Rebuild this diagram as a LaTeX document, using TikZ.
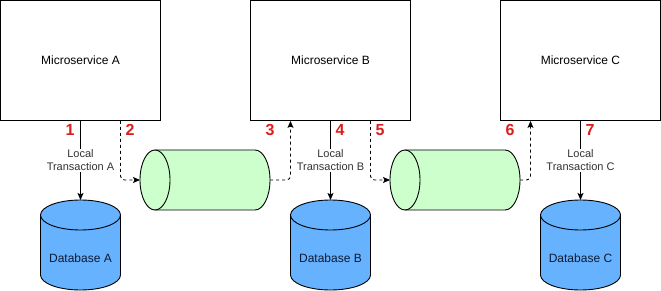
\documentclass[tikz,border=0pt]{standalone}
\usepackage{fontspec}
\setmainfont{Liberation Sans}
\usetikzlibrary{arrows.meta}
\definecolor{dbblue}{HTML}{66B2FF}
\definecolor{qgreen}{HTML}{CCFFCC}
\definecolor{numred}{HTML}{DD1C1C}
\definecolor{lblgray}{HTML}{333333}
\definecolor{dbtextc}{HTML}{0D1A33}
\newcommand\dbdraw[3]{% #1 center x, #2 name, #3 text
  \draw[dbfill] ({#1-40},215) -- ({#1-40},275) arc[start angle=180,end angle=360,x radius=40pt,y radius=15pt] -- ({#1+40},215);
  \draw[dbfill] (#1,215) ellipse[x radius=40pt,y radius=15pt];
  \coordinate (#2top) at (#1,200);
  \node[dbtext] (#2) at (#1,258) {#3};
}
\newcommand\queuedraw[2]{% #1 left x, #2 name
  \draw[qfill] ({#1+15},150) -- ({#1+115},150) arc[start angle=90,end angle=-90,x radius=15pt,y radius=30pt] -- ({#1+15},210);
  \draw[qfill] ({#1+15},180) ellipse[x radius=15pt,y radius=30pt];
  \coordinate (#2L) at (#1,180);
  \coordinate (#2R) at ({#1+130},180);
}
\begin{document}
\begin{tikzpicture}[x=1pt,y=-1pt,
  svc/.style={draw=black, fill=white, line width=0.9pt, minimum width=160pt, minimum height=120pt, inner sep=0pt, font=\fontsize{12}{14}\selectfont},
  lbl/.style={fill=white, font=\fontsize{11}{13}\selectfont, text=lblgray, align=center, inner sep=1pt},
  num/.style={font=\fontsize{16}{18}\selectfont\bfseries, text=numred, inner sep=0pt},
  solidarrow/.style={draw=black, line width=0.9pt, -{Stealth[length=7pt,width=6pt,inset=1.5pt]}},
  dasharrow/.style={solidarrow, dash pattern=on 3pt off 3pt, rounded corners=4pt},
  dbfill/.style={fill=dbblue, draw=black, line width=0.9pt},
  qfill/.style={fill=qgreen, draw=black, line width=0.9pt},
  dbtext/.style={font=\fontsize{12}{14}\selectfont, text=dbtextc, inner sep=0pt}]
\useasboundingbox (0,0) rectangle (661,291);

\node[svc] (svcA) at (80.5,60.5) {Microservice A};
\node[svc] (svcB) at (330.5,60.5) {Microservice B};
\node[svc] (svcC) at (580.5,60.5) {Microservice C};

\dbdraw{80.5}{dbA}{Database A}
\dbdraw{330.5}{dbB}{Database B}
\dbdraw{580.5}{dbC}{Database C}

\queuedraw{140}{qA}
\queuedraw{390}{qB}

\draw[solidarrow] (svcA.south) -- node[lbl] {Local\\Transaction A} (dbAtop);
\draw[solidarrow] (svcB.south) -- node[lbl] {Local\\Transaction B} (dbBtop);
\draw[solidarrow] (svcC.south) -- node[lbl] {Local\\Transaction C} (dbCtop);

\draw[dasharrow] ([xshift=40pt]svcA.south) |- (qAL);
\draw[dasharrow] (qAR) -| ([xshift=-40pt]svcB.south);
\draw[dasharrow] ([xshift=40pt]svcB.south) |- (qBL);
\draw[dasharrow] (qBR) -| ([xshift=-50pt]svcC.south);

\node[num] (n1) at (70,130) {1};
\node[num] (n2) at (130,130) {2};
\node[num] (n3) at (270,130) {3};
\node[num] (n4) at (340,130) {4};
\node[num] (n5) at (380,130) {5};
\node[num] (n6) at (510,130) {6};
\node[num] (n7) at (590,130) {7};
\end{tikzpicture}
\end{document}
